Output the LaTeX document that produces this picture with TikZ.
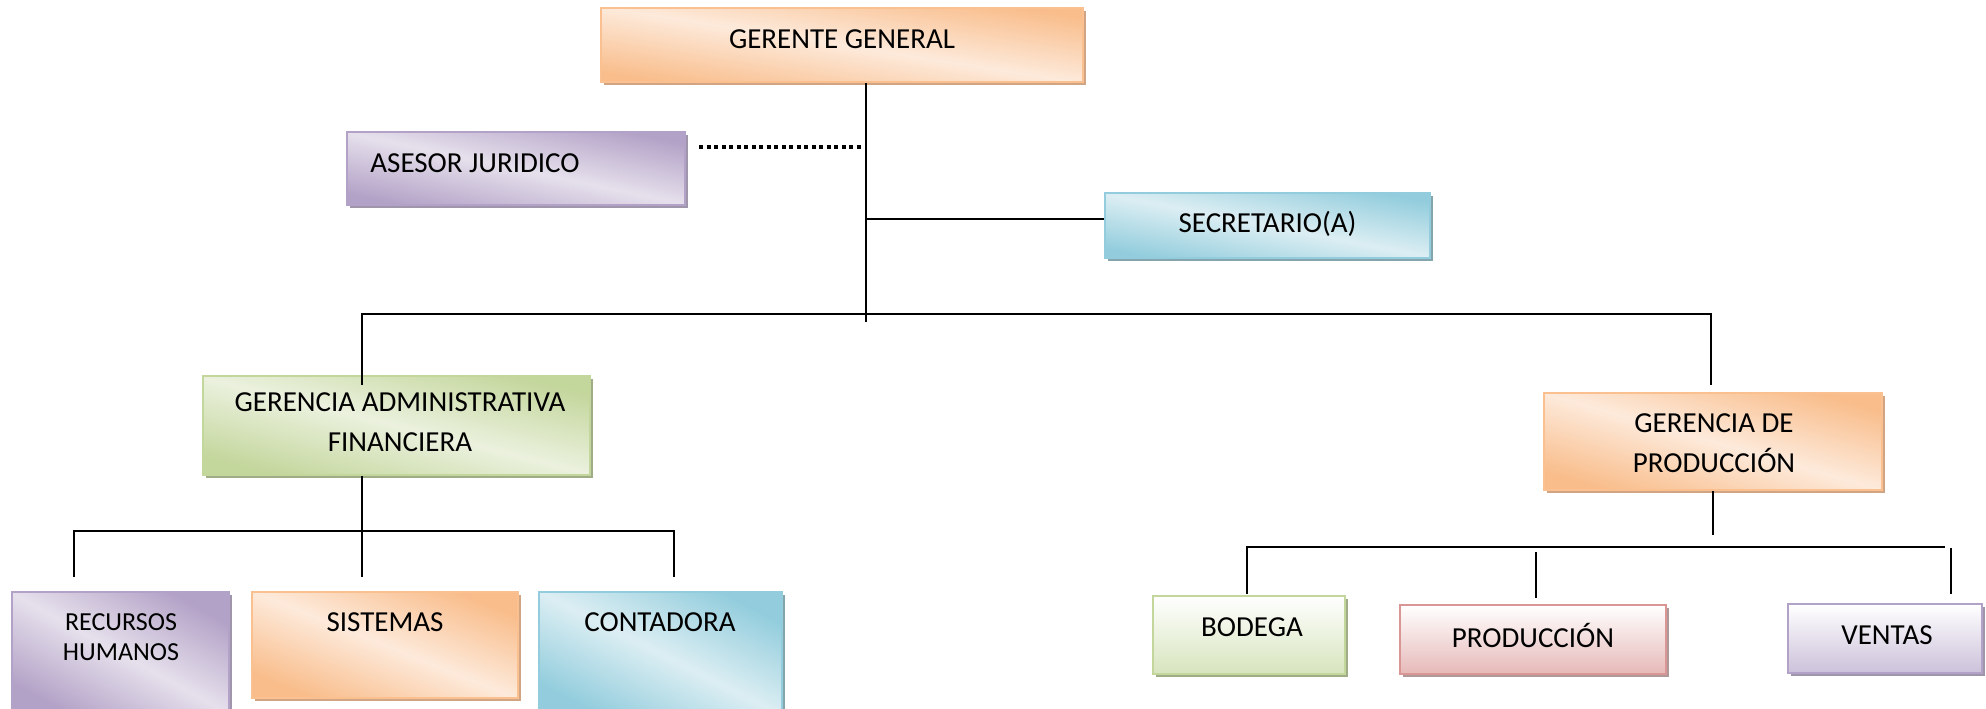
\documentclass[tikz,border=0pt]{standalone}
\usepackage{fontspec}
\setmainfont{Carlito}
\usepackage{tikz}
\usetikzlibrary{calc, shadows}
\definecolor{orgdark}{HTML}{F9BD8B}
\definecolor{orglight}{HTML}{FDEADB}
\definecolor{orgline}{HTML}{FAC090}
\definecolor{orgshade}{HTML}{D1A584}
\definecolor{purdark}{HTML}{B3A2C7}
\definecolor{purlight}{HTML}{E6E0EC}
\definecolor{purline}{HTML}{B3A2C7}
\definecolor{purshade}{HTML}{A096AC}
\definecolor{bludark}{HTML}{93CDDD}
\definecolor{blulight}{HTML}{DCEEF3}
\definecolor{bluline}{HTML}{93CDDD}
\definecolor{blushade}{HTML}{84A4AE}
\definecolor{grndark}{HTML}{C3D69B}
\definecolor{grnlight}{HTML}{EBF1DE}
\definecolor{grnline}{HTML}{C3D69B}
\definecolor{grnshade}{HTML}{9FAC86}
\definecolor{redbot}{HTML}{E6B9B8}
\definecolor{redline}{HTML}{D99694}
\definecolor{redshade}{HTML}{AE9898}
\definecolor{vgrnbot}{HTML}{D7E4BD}
\definecolor{vpurbot}{HTML}{CCC1DA}

\begin{document}
\begin{tikzpicture}[
  x=0.5pt, y=-0.5pt,
  box/.style={draw, line width=1pt, inner sep=0pt},
  diagbox/.style n args={4}{box, draw=#3,
    top color=#1, bottom color=#1, middle color=#2, shading angle=-45,
    general shadow={shadow xshift=1.5pt, shadow yshift=-1.5pt, fill=#4}},
  vertbox/.style n args={3}{box, draw=#2,
    top color=white, bottom color=#1,
    general shadow={shadow xshift=1.5pt, shadow yshift=-1.5pt, fill=#3}},
  orgbox/.style={diagbox={orgdark}{orglight}{orgline}{orgshade}, shading angle=#1},
  purbox/.style={diagbox={purdark}{purlight}{purline}{purshade}, shading angle=#1},
  blubox/.style={diagbox={bludark}{blulight}{bluline}{blushade}, shading angle=#1},
  grnbox/.style={diagbox={grndark}{grnlight}{grnline}{grnshade}, shading angle=#1},
  lbl/.style={font=\fontsize{14.5}{20}\selectfont, align=center, inner sep=0pt},
  conn/.style={line width=1pt, black},
  dotline/.style={line width=1.7pt, dash pattern=on 2pt off 1.75pt}
]
\useasboundingbox (0,0) rectangle (1986,708);

% Top level
\node[orgbox=-9, minimum width=241pt, minimum height=37pt] (gg) at (842,45) {};
\node[lbl] (ggtxt) at (842,39) {GERENTE GENERAL};
\node[purbox=-12, minimum width=169pt, minimum height=36.5pt] (as) at (516,168.5) {};
\node[lbl, anchor=west] (astxt) at (370,163) {ASESOR JURIDICO};
\node[blubox=-11, minimum width=162.5pt, minimum height=32.5pt] (sec) at (1267.5,225.5) {};
\node[lbl] (sectxt) at (1267.5,224) {SECRETARIO(A)};

% Gerencias
\node[grnbox=-14, minimum width=193.5pt, minimum height=49.5pt] (gaf) at (396.5,425.5) {};
\node[lbl] (gaftxt) at (400,422) {GERENCIA ADMINISTRATIVA\\FINANCIERA};
\node[orgbox=-16, minimum width=169pt, minimum height=48.5pt] (gp) at (1713,441.5) {};
\node[lbl] (gptxt) at (1714,443) {GERENCIA DE\\PRODUCCIÓN};

% Areas under administrativa
\node[purbox=-29, minimum width=108.5pt, minimum height=61.5pt] (rh) at (120.5,653.5) {};
\node[lbl, font=\fontsize{13}{15}\selectfont] (rhtxt) at (121,637) {RECURSOS\\HUMANOS};
\node[orgbox=-22, minimum width=133pt, minimum height=53pt] (sis) at (385,645) {};
\node[lbl] (sistxt) at (385,622) {SISTEMAS};
\node[blubox=-27, minimum width=121.5pt, minimum height=61.5pt] (con) at (660.5,653.5) {};
\node[lbl] (contxt) at (660,622) {CONTADORA};

% Areas under produccion
\node[vertbox={vgrnbot}{grnline}{grnshade}, minimum width=96pt, minimum height=39pt] (bod) at (1249,635) {};
\node[lbl] (bodtxt) at (1252,627) {BODEGA};
\node[vertbox={redbot}{redline}{redshade}, minimum width=133pt, minimum height=34.5pt] (prod) at (1533,639.5) {};
\node[lbl] (prodtxt) at (1533,635) {PRODUCCIÓN};
\node[vertbox={vpurbot}{purline}{purshade}, minimum width=97pt, minimum height=34.5pt] (ven) at (1885,638.5) {};
\node[lbl] (ventxt) at (1887,635) {VENTAS};

% Connectors
\coordinate (tk) at (866,322);
\coordinate (dt) at (863,147);
\coordinate (sj) at (866,219);
\coordinate (bl) at (362,314);
\coordinate (br) at (1711,314);
\coordinate (ll) at (74,531);
\coordinate (lr) at (674,531);
\coordinate (gpx) at (1713,535);
\coordinate (rl) at (1247,547);
\coordinate (rr) at (1945,547);
\coordinate (pj) at (1536,552);
\coordinate (vj) at (1951,548);

\draw[conn] (gg.south -| tk) -- (tk);
\draw[dotline] ([xshift=6.5pt]as.east |- dt) -- (dt);
\draw[conn] (sj) -- (sj -| sec.west);
\draw[conn] ([yshift=-5pt]gaf.north -| bl) -- (bl) -- (br) -- ([yshift=3.5pt]gp.north -| br);

\draw[conn] (gaf.south -| bl) -- ([yshift=7pt]sis.north -| bl);
\draw[conn] ([yshift=7pt]rh.north -| ll) -- (ll) -- (lr) -- ([yshift=7pt]con.north -| lr);

\draw[conn] (gp.south) -- (gpx);
\draw[conn] ([yshift=0.5pt]bod.north -| rl) -- (rl) -- (rr);
\draw[conn] (pj) -- ([yshift=3pt]prod.north -| pj);
\draw[conn] (vj) -- ([yshift=4.5pt]ven.north -| vj);

\end{tikzpicture}
\end{document}
